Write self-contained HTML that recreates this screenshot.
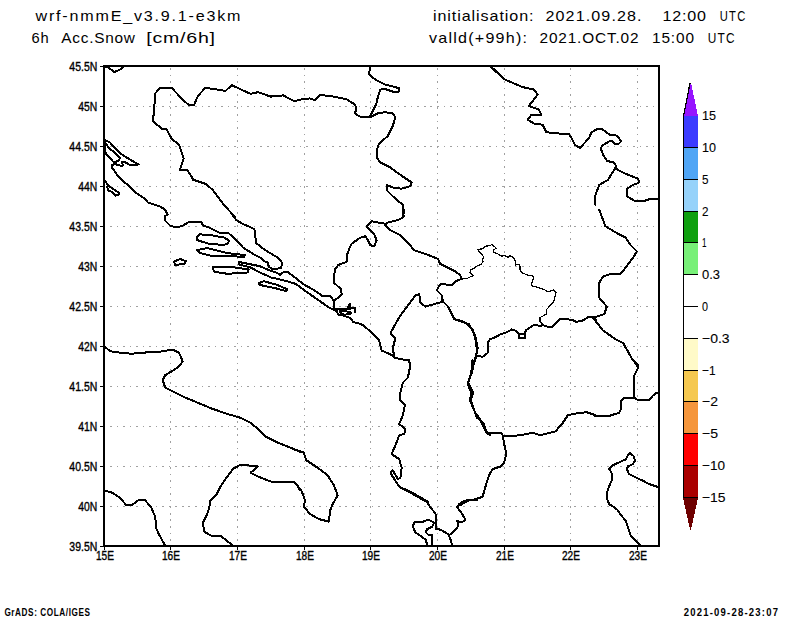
<!DOCTYPE html>
<html><head><meta charset="utf-8"><style>
html,body{margin:0;padding:0;background:#fff;width:800px;height:618px;overflow:hidden}
svg{display:block}
text{font-family:"Liberation Sans",sans-serif}
</style></head><body>
<svg width="800" height="618" viewBox="0 0 800 618" shape-rendering="crispEdges">
<rect width="800" height="618" fill="#fff"/>
<g stroke="#a0a0a0" stroke-width="1"><line x1="105" y1="106.5" x2="658" y2="106.5" stroke-dasharray="1.6 4.94" stroke-dashoffset="1.54"/><line x1="105" y1="146.5" x2="658" y2="146.5" stroke-dasharray="1.6 4.94" stroke-dashoffset="1.54"/><line x1="105" y1="186.5" x2="658" y2="186.5" stroke-dasharray="1.6 4.94" stroke-dashoffset="1.54"/><line x1="105" y1="226.5" x2="658" y2="226.5" stroke-dasharray="1.6 4.94" stroke-dashoffset="1.54"/><line x1="105" y1="266.5" x2="658" y2="266.5" stroke-dasharray="1.6 4.94" stroke-dashoffset="1.54"/><line x1="105" y1="306.5" x2="658" y2="306.5" stroke-dasharray="1.6 4.94" stroke-dashoffset="1.54"/><line x1="105" y1="346.5" x2="658" y2="346.5" stroke-dasharray="1.6 4.94" stroke-dashoffset="1.54"/><line x1="105" y1="386.5" x2="658" y2="386.5" stroke-dasharray="1.6 4.94" stroke-dashoffset="1.54"/><line x1="105" y1="426.5" x2="658" y2="426.5" stroke-dasharray="1.6 4.94" stroke-dashoffset="1.54"/><line x1="105" y1="466.5" x2="658" y2="466.5" stroke-dasharray="1.6 4.94" stroke-dashoffset="1.54"/><line x1="105" y1="506.5" x2="658" y2="506.5" stroke-dasharray="1.6 4.94" stroke-dashoffset="1.54"/><line x1="170.5" y1="67" x2="170.5" y2="545" stroke-dasharray="1.6 4.94" stroke-dashoffset="5.34"/><line x1="237.5" y1="67" x2="237.5" y2="545" stroke-dasharray="1.6 4.94" stroke-dashoffset="5.34"/><line x1="304.5" y1="67" x2="304.5" y2="545" stroke-dasharray="1.6 4.94" stroke-dashoffset="5.34"/><line x1="370.5" y1="67" x2="370.5" y2="545" stroke-dasharray="1.6 4.94" stroke-dashoffset="5.34"/><line x1="437.5" y1="67" x2="437.5" y2="545" stroke-dasharray="1.6 4.94" stroke-dashoffset="5.34"/><line x1="504.5" y1="67" x2="504.5" y2="545" stroke-dasharray="1.6 4.94" stroke-dashoffset="5.34"/><line x1="570.5" y1="67" x2="570.5" y2="545" stroke-dasharray="1.6 4.94" stroke-dashoffset="5.34"/><line x1="637.5" y1="67" x2="637.5" y2="545" stroke-dasharray="1.6 4.94" stroke-dashoffset="5.34"/></g>
<g fill="none" stroke="#000" stroke-width="2" stroke-linejoin="round" stroke-linecap="round"><path d="M104,66.5 L108,67.5 L114.5,72 L120,69.5 L123.5,66.5"/><path d="M300.0,99.6 L294.5,101.4 L283.2,95.4 L270.6,96.6 L258.1,92.1 L250.6,93.9 L243.0,90.4 L231.7,85.1 L225.5,90.9 L217.9,89.6 L205.4,87.8 L197.9,95.9 L194.1,104.7 L189.1,105.4 L182.8,99.6 L171.5,87.8 L160.2,87.8 L155.2,93.4 L154.0,112.2 L152.7,121.0 L161.5,128.5 L166.5,129.3 L171.5,138.5 L179.0,144.8 L183.6,158.6 L179.8,169.9 L187.3,169.9 L192.8,178.7"/><path d="M192.8,180.0 L194.1,180.0 L205.4,183.8 L212.9,190.0 L223.0,203.8 L235.5,217.6"/><path d="M104.5,140 L109.5,142 L121,154 L130,159.5 L138.5,164.5 L130,165 L124,161.5 L122,162 L123,165.5 L119.5,165.5 L115,164 L112,165 L112,167.5 L117.2,175 L121,179.1 L130,187 L136,193 L138.5,194.5 L144,198 L148,202.5 L154,204.5 L160,206.5 L165,209.5 L167.5,214.5 L165,216 L164.5,220 L170,225.5 L176.5,227.5 L183,225.5 L190,221.5 L201,221.5 L203,225.5 L209,227.5 L219,232.5 L228,232.5 L240,243.8 L243,247.5 L248.8,251.2 L255,255 L260,257.5 L265,261.5 L267.5,262.5 L268.8,266.5 L272.5,269.4 L281.2,268 L282,262.5 L277.5,257.5 L265,250 L256.2,243 L254.4,229.4 L251.2,227.5 L242.5,223.8 L236.2,220 L232.5,215"/><path d="M105,142 L108,147 L120,157.5 L119,160.5 L114,162.5 L106,154 L105,150 L105,142"/><path d="M104.9,181 L108.6,185.9 L112.4,188.5 L117.2,191.5 L119.1,193.4 L118.4,195.2 L115.7,195.6 L111.2,191.5 L108.2,190.7 L107.3,187"/><path d="M197.5,236.2 L199.4,234.4 L208.8,234.8 L223.8,237.5 L229.4,240.6 L227.5,243.8 L223.8,245 L208.8,243.8 L196.9,240 L197.5,236.2"/><path d="M196.9,250 L207.5,248.1 L215,250 L227.5,253.1 L245,255 L243.8,257.2 L227.5,255.6 L212.5,256.2 L200,253.1 L196.9,250"/><path d="M212.5,267.5 L220,266.9 L235,267.5 L248.8,269.4 L247.5,272.5 L227.5,273.8 L215,271.9 L213.1,269.4 L212.5,267.5"/><path d="M174,261.5 L180,259 L186.2,261.2 L184,264 L175,265 L174,261.5"/><path d="M258.8,283.1 L263.8,281.2 L277.5,285 L287.5,289.4 L286.2,291.2 L275,288.1 L260,285 L258.8,283.1"/><path d="M239,262 L251,264.4 L260,266.2 L270,270.6 L277.5,273.1 L280,275 L283.8,271.9 L288.1,272.2 L303.8,284.4 L313.8,290 L321.9,295.6 L330,296 L333.8,300.6 L334.4,308.8 L337.5,311.2"/><path d="M239,262 L239,264.4 L250.6,267.5 L260,272.5 L271.2,277.5 L282.5,280 L295.6,283.8 L307.5,292.5 L320,301.2 L328.8,307.5 L337.5,311.2"/><path d="M336.5,308.8 L349.8,308.8 L349.8,304.2 L347.5,307.2"/><path d="M349.8,308.8 L352.8,308 L355,307.6 L355,312.1"/><path d="M340,311 L350.5,311.8 L350.5,314 L343.8,314.8 L340,312.5 L340,311"/><path d="M385.4,223.8 L371.6,221.3 L366.5,226.3 L370.3,230.1 L374.1,233.8 L376.6,240.1 L374.1,246.4 L370.3,245.1 L367.8,240.1 L365.3,236.3 L360.3,237.6 L351.5,243.9 L348.7,249.9"/><path d="M348.8,250 L346.9,255 L347.5,261.2 L345,262.5 L338.1,265 L335,269.4 L333.8,277.5 L334.4,283.1 L340.6,288.8 L341.9,294.4 L338.8,297.5 L333.8,300.6"/><path d="M370.3,66.5 L369.0,74.5 L375.3,79.6 L385.3,84.6 L395.4,87.1 L399.1,88.3 L398.6,91.6 L392.8,91.6 L385.3,89.1 L380.3,89.6 L377.8,97.1 L376.5,103.4 L372.8,110.9 L370.3,116.0"/><path d="M300.0,99.6 L310.0,98.4 L315.1,100.1 L320.1,95.1 L330.1,95.9 L346.4,99.1 L355.2,104.7 L356.5,109.7 L354.7,113.4 L360.2,116.7 L370.3,117.2 L377.8,113.4 L385.3,112.2 L392.8,113.4 L395.4,117.2 L392.8,126.0 L387.8,136.0 L379.0,143.6 L377.3,148.6 L376.5,157.4 L380.3,162.4 L390.3,167.4 L400.4,174.9 L411.7,182.5 L410.4,186.2 L401.6,188.7 L392.8,187.5 L386.6,185.0 L386.6,190.0 L392.8,196.3 L402.9,205.0 L403.6,217.1"/><path d="M404.2,210.0 L402.9,217.5 L397.9,220.0 L387.9,222.5 L385.4,225.1"/><path d="M490.7,66.5 L500.0,74.5"/><path d="M490.0,66.5 L505.1,79.6 L522.6,87.1 L533.9,89.6 L537.7,94.6 L528.9,105.9 L538.9,109.7 L541.4,114.7 L531.4,114.7 L527.6,119.7 L533.9,123.5 L542.7,124.7 L546.5,132.3 L567.8,134.3 L568.8,133.8 L571.2,137.5 L575,145 L580,147.8 L585,142.5 L589.4,137.5 L591.2,132.5 L597.5,128.8 L601.9,129 L610,135 L616.9,135.6 L621.2,141.2 L618.8,143.8 L615,143.8 L612.5,141.2 L609.4,141.2 L602.5,145.6 L600.6,148.1 L603.8,156.2 L607.5,161.2 L613.8,162.2 L616.2,166.2 L614.2,169.9 L607.9,179.9 L599.2,185.0 L595.4,195.0 L595.4,205.0"/><path d="M615.5,168.6 L625.5,173.7 L638.1,178.7 L639.3,182.5 L633.0,185.0 L626.8,188.7 L626.8,196.3 L635.5,201.3 L643.1,201.3 L650.6,198.8 L658.1,198.8"/><path d="M385.4,225.1 L390.4,230.1 L400.4,235.1 L407.9,242.6 L414.2,250.2 L425.5,253.9 L438.1,258.9 L440,263.8 L447.5,267.5 L455,271.2 L460,275 L461.9,278.8"/><path d="M461.9,278.8 L455.6,281.2 L452.5,285 L445,284.4 L440,284.4 L436.8,290.3 L441.8,295.3 L443.1,301.6 L425.5,306.6 L420.5,302.8 L419.2,294.1 L415.5,295.3 L407.9,305.4 L400.4,315.4 L390.4,333.0 L395.4,338.0 L392.9,348.0 L394.1,356.8"/><path d="M441.8,300.3 L448.1,306.6 L454.4,319.2 L465.7,322.9 L473.2,330.5 L475.7,340.5 L477.0,350.5 L475.7,358.1 L473.2,365.1"/><path d="M336.2,311.4 L338.5,314.5 L343,315.5 L349.8,317.8 L353.5,322.2 L360.2,323.8 L363.2,325.2 L370,331.2 L375.2,335.8 L379.1,340.5 L381.6,350.5 L392.9,355.5 L395.4,358.1 L409.2,360.6 L410.5,365.1"/><path d="M409.2,360.0 L409.9,367.5 L407.9,377.6 L402.9,382.6 L400.4,392.6 L400.4,400.2 L404.9,405.2 L402.9,415.2 L399.2,424.0 L405.4,429.0 L404.2,434.0 L399.2,435.3 L395.4,445.3 L391.6,454.1 L399.2,459.1 L401.7,467.9 L400.4,477.9 L397.9,479.2 L392.9,470.4 L390.4,472.9 L399.2,486.7 L410.5,491.7 L428.0,501.8"/><path d="M400,487.6 L413,494.1 L427.1,502.1 L430.1,507.1 L435.1,513 L436.1,516 L436.1,529.1 L440.2,529.6 L448.2,534.1 L450.2,538.2 L452.2,545.7"/><path d="M427.1,545.7 L426.1,540.2 L420.1,535.6 L415.1,532.1 L412.6,526.1 L415.1,521.6 L422.1,522.1 L428.1,519.6 L434.1,522.6 L432.1,526.6 L427.1,529.1 L425.6,532.1 L428.1,534.6 L432.1,535.1 L432.1,545.7"/><path d="M451.2,534.1 L457.2,528.1 L458.2,525.1 L457.2,521.1 L462.2,522.1 L465.3,519.6 L462.2,514.1 L459.2,510 L457.2,507 L459.2,504 L464.3,501 L468.3,500 L477.3,500"/><path d="M474.4,360.0 L471.9,372.5 L468.2,382.6 L473.2,392.6 L470.7,400.2 L477.0,417.7 L483.2,422.7 L487.0,432.8 L490.0,435.3"/><path d="M472.5,360.0 L471.3,372.5 L467.5,383.8 L471.3,392.6 L470.0,400.2 L475.1,412.7 L480.1,419.0 L482.6,425.2 L486.3,432.8 L492.6,432.8 L501.4,432.8 L502.7,435.3 L503.9,442.8 L506.4,454.1 L503.9,462.9 L500.2,466.6 L492.6,469.2 L488.9,475.4 L485.1,488.0 L482.6,496.8 L475.1,499.3 L468.8,500.5 L463.8,503.0 L460.0,505.5"/><path d="M460.0,320.4 L468.8,324.2 L475.1,335.5 L477.6,348.0 L476.3,355.5 L472.5,365.1"/><path d="M476.3,355.5 L482.6,356.8 L487.6,353 L487.6,343 L490.1,339.2 L496.4,336.7 L500,334.4 L506.2,332.5 L511.9,329.4 L515.6,330.6 L518.8,333.8 L518.8,338.1 L525.6,338.1 L524.4,333.8 L518.8,333.8 L524.4,333.8 L526.2,330 L530,327.5 L535,324.4 L540,326.2 L542.5,325 L548.1,326.9 L551.9,326.9 L560.6,318.8 L572.5,319.8 L576.2,321.9 L582.5,320.6 L588.8,316.9 L592.5,316.9 L596.2,320.6"/><path d="M599.3,210.0 L605.5,226.3 L618.1,233.8 L625.6,237.6 L630.6,245.1 L636.9,251.4 L633.1,257.7 L620.6,274.0 L610.6,274.0 L603.0,276.5 L599.3,282.8 L599.3,297.8 L606.8,306.6 L604.3,314.1 L593.0,317.9 L603.0,330.5 L615.6,339.2 L623.1,343.0 L633.1,360.6 L638.2,365.1"/><path d="M633.1,360.0 L638.2,367.5 L634.4,375.1 L634.4,397.6"/><path d="M502.7,436.5 L520.2,435.3 L532.8,432.8 L540.3,435.3 L545.3,434.0 L555.4,431.5 L562.9,422.7 L567.9,415.2 L577.9,413.2 L586.7,412.2 L595.5,415.2 L595,415.7 L610,415.7 L619.1,412.7 L620.6,409.7 L620.6,401.6 L624.1,397.6 L634.2,397.6 L637.2,399.6 L649.7,399.6 L652.8,395.6 L655.3,393.6 L658.3,392.6"/><path d="M640.7,545.5 L630.6,535.4 L625.6,520.4 L621.9,516.2 L617.5,510 L613.8,506.9 L609.4,504.4 L607.5,500 L606.9,493.8 L608.1,488.8 L610,484.4 L611.9,480 L611.9,473.8 L610,470 L608.8,468.8 L612.5,465.6 L618.8,462.5 L625.6,459.4 L628.1,455 L630,453.1 L633.8,456.2 L635,461.2 L632.5,464.4 L628.1,466.2 L626.9,468.8 L628.8,473.8 L635,476.9 L642.5,480.6 L650,484.4 L657.5,486.9"/><path d="M104.5,346.3 L110.0,351.3 L120.1,352.6 L131.4,353.8 L142.7,352.6 L157.7,352.1 L172.8,349.6 L179.0,352.6 L182.8,361.4 L179.0,366.4 L171.5,371.4 L165.2,375.2 L162.7,380.2 L165.2,387.7 L172.8,391.5 L182.8,396.5 L197.9,402.8 L212.9,409.0 L228.0,414.1 L240.5,417.8 L250.6,422.8 L258.1,429.1 L265.6,436.6 L275.7,441.7 L290.7,447.9 L300.0,451.7"/><path d="M290.0,447.6 L303.8,452.6 L306.3,460.2 L317.6,467.7 L327.6,475.2 L333.9,485.2 L337.7,495.3 L332.7,504.1 L330.2,510.3 L328.9,521.6 L318.9,519.1 L310.1,514.1 L303.8,506.6 L305.1,500.3 L301.3,490.3 L295.0,482.7 L290.0,481.5"/><path d="M233.0,545.5 L220.5,535.9 L211.7,535.9 L204.1,531.7 L202.9,522.9 L206.6,515.4 L209.2,507.8 L210.4,500.3 L216.7,494.0 L220.5,486.5 L225.5,479.0 L233.0,468.9 L240.5,464.7 L250.6,465.7 L258.1,466.4 L250.6,472.7 L258.1,476.5 L270.6,481.5 L293.2,481.5 L297.0,485.2 L300.0,490.3"/><path d="M104.5,490.3 L112.5,492.8 L120.1,497.8 L126.3,505.3 L131.4,505.3 L138.9,499.8 L145.2,500.3 L151.4,507.8 L155.2,516.6 L156.5,529.2 L160.2,536.7 L165.2,545.5"/></g>
<g fill="none" stroke="#000" stroke-width="1.2" stroke-linejoin="round"><path d="M461.2,278.8 L466.2,278.8 L473.1,275.6 L470,272.5 L470.6,270 L474.4,268.1 L477.5,265.6 L481.2,264.4 L483.1,261.2 L481.9,260 L483.8,257.5 L482.5,255 L479.4,251.9 L477.5,249.4 L483.1,248.8 L485.6,246.2 L490,245.6 L491.9,244.4 L496.2,248.1 L493.8,250 L493.8,252.5 L497.5,253.8 L501.9,256.2 L505,255.6 L508.1,257.2 L510,255.6 L513.1,257.5 L515,260 L515.6,265 L518.8,264.4 L520,266.2 L520,270 L522.5,273.1 L527.5,275 L533.1,276.2 L533.1,278.8 L531.2,285.6 L536.2,286.9 L540,288.1 L543.8,289.4 L548.1,291.9 L553.8,290 L556.2,292.5 L555,296.2 L553.8,301.9 L550.6,305 L546.2,310 L546.9,313.8 L543.8,315.6 L540,317.5 L540,321.2 L543.1,324.4"/></g>
<rect x="104" y="66" width="555" height="480" fill="none" stroke="#000" stroke-width="2"/>
<g stroke="#000" stroke-width="1"><line x1="100" y1="66.5" x2="104" y2="66.5"/><line x1="100" y1="106.5" x2="104" y2="106.5"/><line x1="100" y1="146.5" x2="104" y2="146.5"/><line x1="100" y1="186.5" x2="104" y2="186.5"/><line x1="100" y1="226.5" x2="104" y2="226.5"/><line x1="100" y1="266.5" x2="104" y2="266.5"/><line x1="100" y1="306.5" x2="104" y2="306.5"/><line x1="100" y1="346.5" x2="104" y2="346.5"/><line x1="100" y1="386.5" x2="104" y2="386.5"/><line x1="100" y1="426.5" x2="104" y2="426.5"/><line x1="100" y1="466.5" x2="104" y2="466.5"/><line x1="100" y1="506.5" x2="104" y2="506.5"/><line x1="100" y1="546.5" x2="104" y2="546.5"/><line x1="104.5" y1="546" x2="104.5" y2="550"/><line x1="170.5" y1="546" x2="170.5" y2="550"/><line x1="237.5" y1="546" x2="237.5" y2="550"/><line x1="304.5" y1="546" x2="304.5" y2="550"/><line x1="370.5" y1="546" x2="370.5" y2="550"/><line x1="437.5" y1="546" x2="437.5" y2="550"/><line x1="504.5" y1="546" x2="504.5" y2="550"/><line x1="570.5" y1="546" x2="570.5" y2="550"/><line x1="637.5" y1="546" x2="637.5" y2="550"/></g>
<g font-family="Liberation Sans" font-size="12" fill="#000" stroke="#000" stroke-width="0.35"><text x="69.3" y="70.6" textLength="28" lengthAdjust="spacingAndGlyphs">45.5N</text><text x="78.3" y="110.6" textLength="19" lengthAdjust="spacingAndGlyphs">45N</text><text x="69.3" y="150.6" textLength="28" lengthAdjust="spacingAndGlyphs">44.5N</text><text x="78.3" y="190.6" textLength="19" lengthAdjust="spacingAndGlyphs">44N</text><text x="69.3" y="230.6" textLength="28" lengthAdjust="spacingAndGlyphs">43.5N</text><text x="78.3" y="270.6" textLength="19" lengthAdjust="spacingAndGlyphs">43N</text><text x="69.3" y="310.6" textLength="28" lengthAdjust="spacingAndGlyphs">42.5N</text><text x="78.3" y="350.6" textLength="19" lengthAdjust="spacingAndGlyphs">42N</text><text x="69.3" y="390.6" textLength="28" lengthAdjust="spacingAndGlyphs">41.5N</text><text x="78.3" y="430.6" textLength="19" lengthAdjust="spacingAndGlyphs">41N</text><text x="69.3" y="470.6" textLength="28" lengthAdjust="spacingAndGlyphs">40.5N</text><text x="78.3" y="510.6" textLength="19" lengthAdjust="spacingAndGlyphs">40N</text><text x="69.3" y="550.6" textLength="28" lengthAdjust="spacingAndGlyphs">39.5N</text><text x="96" y="560" textLength="18" lengthAdjust="spacingAndGlyphs">15E</text><text x="162" y="560" textLength="18" lengthAdjust="spacingAndGlyphs">16E</text><text x="229" y="560" textLength="18" lengthAdjust="spacingAndGlyphs">17E</text><text x="296" y="560" textLength="18" lengthAdjust="spacingAndGlyphs">18E</text><text x="362" y="560" textLength="18" lengthAdjust="spacingAndGlyphs">19E</text><text x="429" y="560" textLength="18" lengthAdjust="spacingAndGlyphs">20E</text><text x="496" y="560" textLength="18" lengthAdjust="spacingAndGlyphs">21E</text><text x="562" y="560" textLength="18" lengthAdjust="spacingAndGlyphs">22E</text><text x="629" y="560" textLength="18" lengthAdjust="spacingAndGlyphs">23E</text></g>
<g font-family="Liberation Sans" font-size="13" fill="#000"><path d="M683,116 L690,82.6 L691,82.6 L698,116 Z" fill="#9614ff"/><rect x="683" y="116" width="15" height="31" fill="#3c3cff"/><rect x="683" y="147" width="15" height="32" fill="#50a5f5"/><rect x="683" y="179" width="15" height="32" fill="#96d2fa"/><rect x="683" y="211" width="15" height="31" fill="#0fa00f"/><rect x="683" y="242" width="15" height="32" fill="#78f078"/><rect x="683" y="274" width="15" height="32" fill="#ffffff"/><rect x="683" y="306" width="15" height="32" fill="#ffffff"/><rect x="683" y="338" width="15" height="32" fill="#fffac8"/><rect x="683" y="370" width="15" height="31" fill="#f5c850"/><rect x="683" y="401" width="15" height="32" fill="#f5963c"/><rect x="683" y="433" width="15" height="32" fill="#ff0000"/><rect x="683" y="465" width="15" height="32" fill="#aa0000"/><path d="M683,498 L690,529.5 L691,529.5 L698,498 Z" fill="#6e0000"/><line x1="683.5" y1="116" x2="683.5" y2="498" stroke="#000" stroke-width="1"/><line x1="683.5" y1="116" x2="690" y2="83" stroke="#000" stroke-width="1.2"/><line x1="683" y1="147.5" x2="698" y2="147.5" stroke="#000" stroke-width="1"/><line x1="683" y1="179.5" x2="698" y2="179.5" stroke="#000" stroke-width="1"/><line x1="683" y1="211.5" x2="698" y2="211.5" stroke="#000" stroke-width="1"/><line x1="683" y1="242.5" x2="698" y2="242.5" stroke="#000" stroke-width="1"/><line x1="683" y1="274.5" x2="698" y2="274.5" stroke="#000" stroke-width="1"/><line x1="683" y1="306.5" x2="698" y2="306.5" stroke="#000" stroke-width="1"/><line x1="683" y1="338.5" x2="698" y2="338.5" stroke="#000" stroke-width="1"/><line x1="683" y1="370.5" x2="698" y2="370.5" stroke="#000" stroke-width="1"/><line x1="683" y1="401.5" x2="698" y2="401.5" stroke="#000" stroke-width="1"/><line x1="683" y1="433.5" x2="698" y2="433.5" stroke="#000" stroke-width="1"/><line x1="683" y1="465.5" x2="698" y2="465.5" stroke="#000" stroke-width="1"/><line x1="683" y1="497.5" x2="698" y2="497.5" stroke="#000" stroke-width="1"/><text x="702" y="120.10" textLength="14" lengthAdjust="spacingAndGlyphs" stroke="#000" stroke-width="0.1">15</text><text x="702" y="152.00" textLength="14" lengthAdjust="spacingAndGlyphs" stroke="#000" stroke-width="0.1">10</text><text x="702" y="184.00" textLength="6.5" lengthAdjust="spacingAndGlyphs" stroke="#000" stroke-width="0.1">5</text><text x="702" y="216.00" textLength="6.5" lengthAdjust="spacingAndGlyphs" stroke="#000" stroke-width="0.1">2</text><text x="702" y="247.00" textLength="4.5" lengthAdjust="spacingAndGlyphs" stroke="#000" stroke-width="0.1">1</text><text x="702" y="279.00" textLength="18" lengthAdjust="spacingAndGlyphs" stroke="#000" stroke-width="0.1">0.3</text><text x="702" y="311.00" textLength="6" lengthAdjust="spacingAndGlyphs" stroke="#000" stroke-width="0.1">0</text><text x="702" y="343.00" textLength="27.6" lengthAdjust="spacingAndGlyphs" stroke="#000" stroke-width="0.1">−0.3</text><text x="702" y="375.00" textLength="13.6" lengthAdjust="spacingAndGlyphs" stroke="#000" stroke-width="0.1">−1</text><text x="702" y="406.00" textLength="16" lengthAdjust="spacingAndGlyphs" stroke="#000" stroke-width="0.1">−2</text><text x="702" y="438.00" textLength="16" lengthAdjust="spacingAndGlyphs" stroke="#000" stroke-width="0.1">−5</text><text x="702" y="470.00" textLength="23" lengthAdjust="spacingAndGlyphs" stroke="#000" stroke-width="0.1">−10</text><text x="702" y="502.00" textLength="23.6" lengthAdjust="spacingAndGlyphs" stroke="#000" stroke-width="0.1">−15</text></g>
<g font-family="Liberation Sans" font-size="14" fill="#000"><text transform="translate(35.5 20.6) scale(1.15 1)" x="0" y="0" textLength="178.26" lengthAdjust="spacing" xml:space="preserve">wrf-nmmE_v3.9.1-e3km</text><text transform="translate(31.5 42.5) scale(1.05 1)" x="0" y="0" textLength="16.43" lengthAdjust="spacing" xml:space="preserve">6h</text><text transform="translate(61.25 42.5) scale(1.1 1)" x="0" y="0" textLength="67.05" lengthAdjust="spacing" xml:space="preserve">Acc.Snow</text><text transform="translate(146.25 42.5) scale(1.4 1)" x="0" y="0" textLength="49.11" lengthAdjust="spacing" xml:space="preserve">[cm/6h]</text><text transform="translate(433 20.6) scale(1.15 1)" x="0" y="0" textLength="87.39" lengthAdjust="spacing" xml:space="preserve">initialisation:</text><text transform="translate(545.5 20.6) scale(1.15 1)" x="0" y="0" textLength="83.57" lengthAdjust="spacing" xml:space="preserve">2021.09.28.</text><text transform="translate(662.6 20.6) scale(1.15 1)" x="0" y="0" textLength="37.74" lengthAdjust="spacing" xml:space="preserve">12:00</text><text transform="translate(719.7 20.6) scale(0.8 1)" x="0" y="0" textLength="32.00" lengthAdjust="spacing" xml:space="preserve">UTC</text><text transform="translate(429 42.5) scale(1.15 1)" x="0" y="0" textLength="85.22" lengthAdjust="spacing" xml:space="preserve">valld(+99h):</text><text transform="translate(539.5 42.5) scale(1.1 1)" x="0" y="0" textLength="90.09" lengthAdjust="spacing" xml:space="preserve">2021.OCT.02</text><text transform="translate(652 42.5) scale(1.1 1)" x="0" y="0" textLength="38.18" lengthAdjust="spacing" xml:space="preserve">15:00</text><text transform="translate(707.7 42.5) scale(0.85 1)" x="0" y="0" textLength="31.76" lengthAdjust="spacing" xml:space="preserve">UTC</text></g>
<g font-family="Liberation Sans" font-size="10" font-weight="bold" fill="#000"><text transform="translate(4.4 615.6) scale(0.82 1)" x="0" y="0" textLength="104.39" lengthAdjust="spacing" xml:space="preserve">GrADS: COLA/IGES</text><text transform="translate(683.7 615.6) scale(0.95 1)" x="0" y="0" textLength="99.26" lengthAdjust="spacing" xml:space="preserve">2021-09-28-23:07</text></g>
</svg></body></html>
